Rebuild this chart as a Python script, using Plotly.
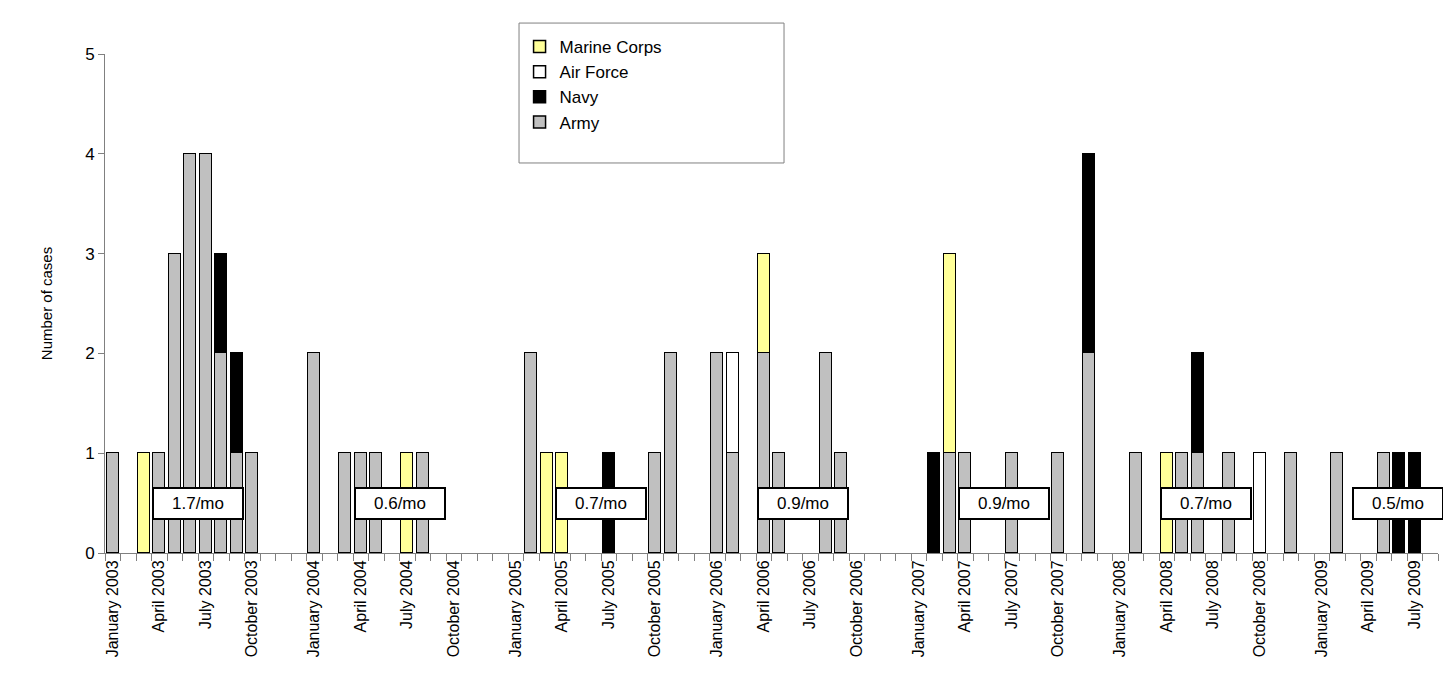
import plotly.graph_objects as go

years = [2003, 2004, 2005, 2006, 2007, 2008, 2009]
month_names = ["January", "February", "March", "April", "May", "June", "July",
               "August", "September", "October", "November", "December"]
# counts per year: 12 months each (2009 has Jan-Aug)
army = {
    2003: [1, 0, 0, 1, 3, 4, 4, 2, 1, 1, 0, 0],
    2004: [2, 0, 1, 1, 1, 0, 0, 1, 0, 0, 0, 0],
    2005: [0, 2, 0, 0, 0, 0, 0, 0, 0, 1, 2, 0],
    2006: [2, 1, 0, 2, 1, 0, 0, 2, 1, 0, 0, 0],
    2007: [0, 0, 1, 1, 0, 0, 1, 0, 0, 1, 0, 2],
    2008: [0, 1, 0, 0, 1, 1, 0, 1, 0, 0, 0, 1],
    2009: [0, 1, 0, 0, 1, 0, 0, 0],
}
navy = {
    2003: [0, 0, 0, 0, 0, 0, 0, 1, 1, 0, 0, 0],
    2004: [0] * 12,
    2005: [0, 0, 0, 0, 0, 0, 1, 0, 0, 0, 0, 0],
    2006: [0] * 12,
    2007: [0, 1, 0, 0, 0, 0, 0, 0, 0, 0, 0, 2],
    2008: [0, 0, 0, 0, 0, 1, 0, 0, 0, 0, 0, 0],
    2009: [0, 0, 0, 0, 0, 1, 1, 0],
}
airforce = {
    2003: [0] * 12,
    2004: [0] * 12,
    2005: [0] * 12,
    2006: [0, 1, 0, 0, 0, 0, 0, 0, 0, 0, 0, 0],
    2007: [0] * 12,
    2008: [0, 0, 0, 0, 0, 0, 0, 0, 0, 1, 0, 0],
    2009: [0] * 8,
}
marines = {
    2003: [0, 0, 1, 0, 0, 0, 0, 0, 0, 0, 0, 0],
    2004: [0, 0, 0, 0, 0, 0, 1, 0, 0, 0, 0, 0],
    2005: [0, 0, 1, 1, 0, 0, 0, 0, 0, 0, 0, 0],
    2006: [0, 0, 0, 1, 0, 0, 0, 0, 0, 0, 0, 0],
    2007: [0, 0, 2, 0, 0, 0, 0, 0, 0, 0, 0, 0],
    2008: [0, 0, 0, 1, 0, 0, 0, 0, 0, 0, 0, 0],
    2009: [0] * 8,
}
rates = ["1.7/mo", "0.6/mo", "0.7/mo", "0.9/mo", "0.9/mo", "0.7/mo", "0.5/mo"]
rate_pos = [5.5, 18.5, 31.5, 44.5, 57.5, 70.5, 82.9]

xs, ya, yn, yf, ym = [], [], [], [], []
tickvals, ticktext = [], []
for yi, yr in enumerate(years):
    for m in range(len(army[yr])):
        idx = yi * 13 + m
        xs.append(idx)
        ya.append(army[yr][m]); yn.append(navy[yr][m])
        yf.append(airforce[yr][m]); ym.append(marines[yr][m])
        if m % 3 == 0 and not (yr == 2009 and m > 6):
            tickvals.append(idx)
            ticktext.append(f"{month_names[m]} {yr}")

line = dict(color="black", width=1.5)
fig = go.Figure()
for name, vals, col in [("Army", ya, "#C0C0C0"), ("Navy", yn, "#000000"),
                        ("Air Force", yf, "#FFFFFF"), ("Marine Corps", ym, "#FFFF99")]:
    fig.add_bar(x=xs, y=[v if v else None for v in vals], name=name, width=0.8,
                marker=dict(color=col, line=line))

for t, p in zip(rates, rate_pos):
    fig.add_annotation(x=p, y=0.5, text=t, showarrow=False, bgcolor="white",
                       bordercolor="black", borderwidth=2, borderpad=5,
                       width=78, font=dict(size=17, color="black"))

fig.add_shape(type="rect", xref="paper", yref="paper", x0=0.3106, x1=0.5094,
              y0=0.7816, y1=1.062, line=dict(color="#808080", width=1), layer="below")

fig.update_layout(
    barmode="stack", width=1451, height=686, plot_bgcolor="white", paper_bgcolor="white",
    margin=dict(l=97, r=21, t=46, b=141), bargap=0,
    font=dict(family="Arial, Liberation Sans", color="black"),
    legend=dict(traceorder="reversed", x=0.311, y=1.05, xanchor="left", yanchor="top",
                borderwidth=0, font=dict(size=17), bgcolor="rgba(0,0,0,0)",
                itemwidth=30, tracegroupgap=10),
    xaxis=dict(range=[-0.5, 85.5], tickvals=tickvals, ticktext=ticktext, tickangle=-90,
               ticks="", showline=True, linecolor="#808080", tickfont=dict(size=16),
               showgrid=False, zeroline=False,
               minor=dict(ticks="outside", tick0=-0.5, dtick=1, ticklen=7, tickcolor="#808080", showgrid=False)),
    yaxis=dict(range=[0, 5], dtick=1, showline=True, linecolor="#808080", ticks="outside",
               ticklen=6, tickcolor="#808080", showgrid=False, zeroline=False,
               tickfont=dict(size=17), title=dict(text="Number of cases", font=dict(size=15), standoff=28)),
)
fig.write_html("out.html")
